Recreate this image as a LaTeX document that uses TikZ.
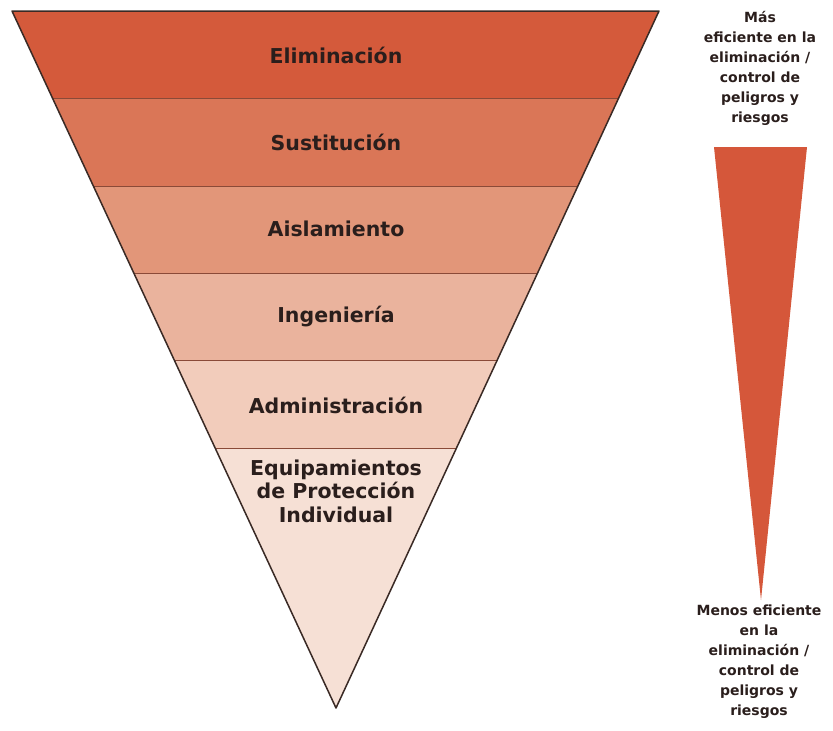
\documentclass[tikz,border=0pt]{standalone}
\usepackage{fontspec}
\setmainfont{DejaVu Sans}
\definecolor{bA}{HTML}{D45A3B}
\definecolor{bB}{HTML}{DA7657}
\definecolor{bC}{HTML}{E29679}
\definecolor{bD}{HTML}{EAB39D}
\definecolor{bE}{HTML}{F2CCBB}
\definecolor{bF}{HTML}{F6E0D5}
\definecolor{wedge}{HTML}{D5573A}
\definecolor{txt}{HTML}{2A1E1C}
\definecolor{outl}{HTML}{3A2A25}
\definecolor{sep}{HTML}{8A4A38}
\tikzset{
  lbl/.style={font=\bfseries\fontsize{20.5}{23.5}\selectfont, text=txt, align=center, inner sep=0pt},
  side/.style={font=\bfseries\fontsize{14}{20}\selectfont, text=txt, align=center, inner sep=0pt},
}
\begin{document}
\begin{tikzpicture}[x=1pt,y=-1pt]
\useasboundingbox (0,0) rectangle (833,731);
\fill[white] (0,0) rectangle (833,731);
\coordinate (tl) at (12,11);
\coordinate (tr) at (659,11);
\coordinate (ap) at (336,708);
\begin{scope}
  \clip (tl) -- (tr) -- (ap) -- cycle;
  \fill[bA] (0,11) rectangle (833,98);
  \fill[bB] (0,98) rectangle (833,186);
  \fill[bC] (0,186) rectangle (833,273);
  \fill[bD] (0,273) rectangle (833,360);
  \fill[bE] (0,360) rectangle (833,448);
  \fill[bF] (0,448) rectangle (833,710);
  \foreach \yy in {98,186,273,360,448} \draw[sep, line width=1pt] (0,\yy) -- (833,\yy);
\end{scope}
\draw[outl, line width=1.5pt, line join=round] (tl) -- (tr) -- (ap) -- cycle;
\node[lbl] (n1) at (336,55) {Eliminación};
\node[lbl] (n2) at (336,142) {Sustitución};
\node[lbl] (n3) at (336,229) {Aislamiento};
\node[lbl] (n4) at (336,317) {Ingeniería};
\node[lbl] (n5) at (336,405) {Administración};
\node[lbl] (n6) at (336,491) {Equipamientos\\de Protección\\Individual};
\fill[wedge] (714,147) -- (807,147) -- (761,600) -- cycle;
\node[side] (top) at (760,68) {Más\\eficiente en la\\eliminación /\\control de\\peligros y\\riesgos};
\node[side] (bot) at (759,662) {Menos eficiente\\en la\\eliminación /\\control de\\peligros y\\riesgos};
\end{tikzpicture}
\end{document}
